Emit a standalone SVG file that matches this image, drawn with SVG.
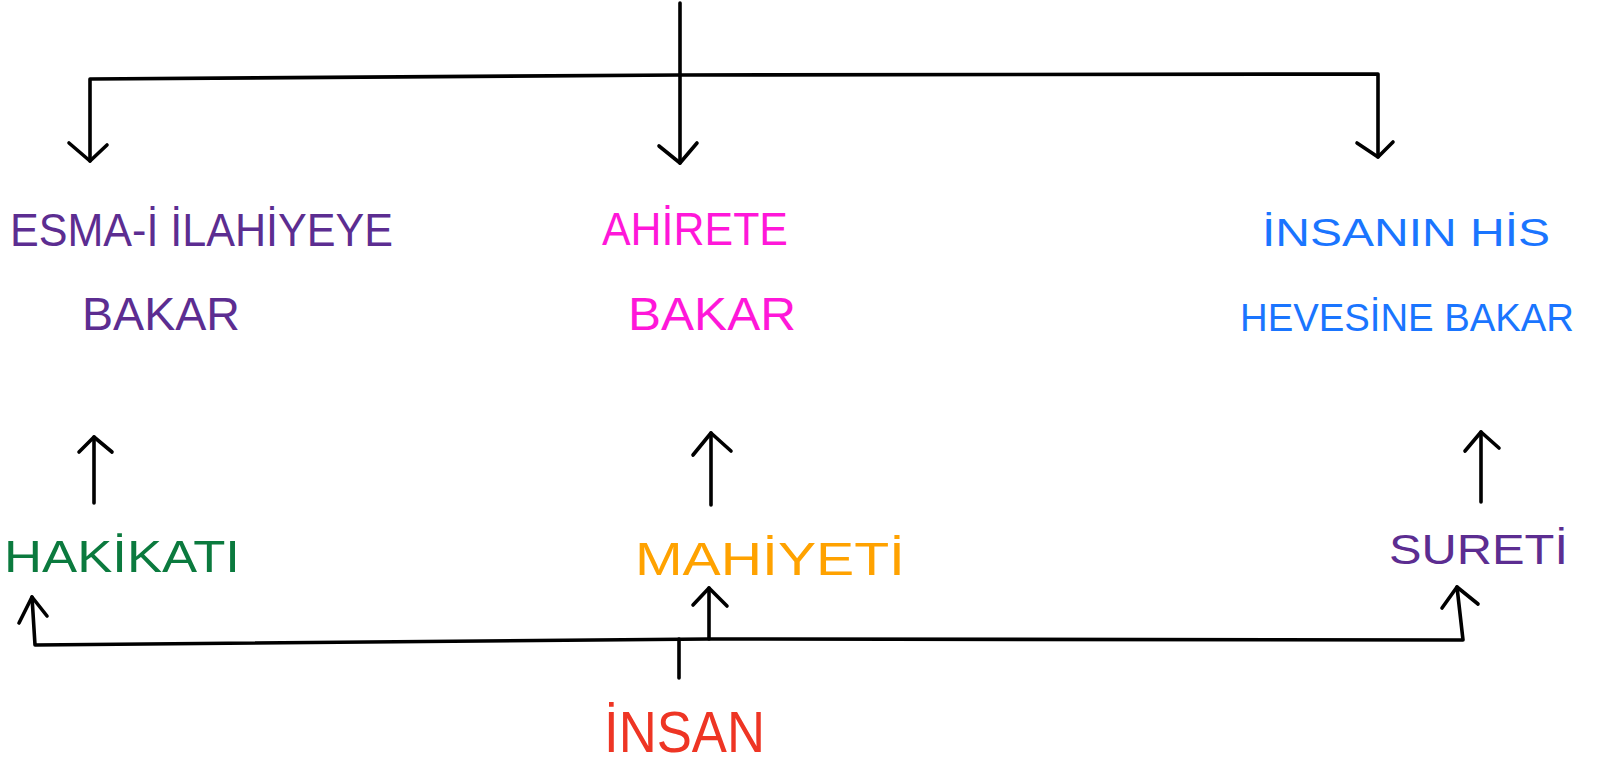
<svg xmlns="http://www.w3.org/2000/svg" width="1598" height="761" viewBox="0 0 1598 761">
<style>
.ln{fill:none;stroke:#000;stroke-width:3.6;stroke-linecap:round;stroke-linejoin:round}
.t{font-family:"Liberation Sans","DejaVu Sans",sans-serif;font-weight:normal}
.purple{fill:#5C2D91}.pink{fill:#FF17D9}.blue{fill:#1A75FF}.green{fill:#0B7A3E}.orange{fill:#FFA200}.red{fill:#EE3524}
</style>
<rect width="1598" height="761" fill="#fff"/>
<g id="connectors">
<path class="ln" d="M680,3 L680,163"/>
<path class="ln" d="M659,146 L680,163 L697,143"/>
<path class="ln" d="M90,161 L90,79 L680,75 L1378,74 L1378,157"/>
<path class="ln" d="M69,143 L90,161 L107,145"/>
<path class="ln" d="M1357,143 L1378,157 L1393,142"/>
<path class="ln" d="M94,503 L94,437"/>
<path class="ln" d="M79,452 L94,437 L112,452"/>
<path class="ln" d="M711,505 L711,433"/>
<path class="ln" d="M693,455 L711,433 L731,451"/>
<path class="ln" d="M1481,502 L1481,432"/>
<path class="ln" d="M1465,451 L1481,432 L1499,448"/>
<path class="ln" d="M32,597 L35,645 L709,639 L1463,640 L1457,587"/>
<path class="ln" d="M19,623 L32,597 L47,616"/>
<path class="ln" d="M709,639 L709,588"/>
<path class="ln" d="M693,605 L709,588 L727,606"/>
<path class="ln" d="M1442,608 L1457,587 L1478,604"/>
<path class="ln" d="M679,639 L679,678"/>
</g>
<g id="esma">
<text class="t purple" x="10" y="246" font-size="46" textLength="383" lengthAdjust="spacingAndGlyphs">ESMA-İ İLAHİYEYE</text>
<text class="t purple" x="82" y="330" font-size="46" textLength="158" lengthAdjust="spacingAndGlyphs">BAKAR</text>
</g>
<g id="ahirete">
<text class="t pink" x="602" y="245" font-size="46" textLength="186" lengthAdjust="spacingAndGlyphs">AHİRETE</text>
<text class="t pink" x="628" y="330" font-size="46" textLength="168" lengthAdjust="spacingAndGlyphs">BAKAR</text>
</g>
<g id="hisheves">
<text class="t blue" x="1262" y="246" font-size="38" textLength="288" lengthAdjust="spacingAndGlyphs">İNSANIN HİS</text>
<text class="t blue" x="1240" y="331" font-size="38" textLength="334" lengthAdjust="spacingAndGlyphs">HEVESİNE BAKAR</text>
</g>
<g id="hakikati">
<text class="t green" x="4" y="572" font-size="44" textLength="236" lengthAdjust="spacingAndGlyphs">HAKİKATI</text>
</g>
<g id="mahiyeti">
<text class="t orange" x="635" y="575" font-size="46" textLength="270" lengthAdjust="spacingAndGlyphs">MAHİYETİ</text>
</g>
<g id="sureti">
<text class="t purple" x="1389" y="564" font-size="42" textLength="179" lengthAdjust="spacingAndGlyphs">SURETİ</text>
</g>
<g id="insan">
<text class="t red" x="604" y="752" font-size="58" textLength="161" lengthAdjust="spacingAndGlyphs">İNSAN</text>
</g>
</svg>
